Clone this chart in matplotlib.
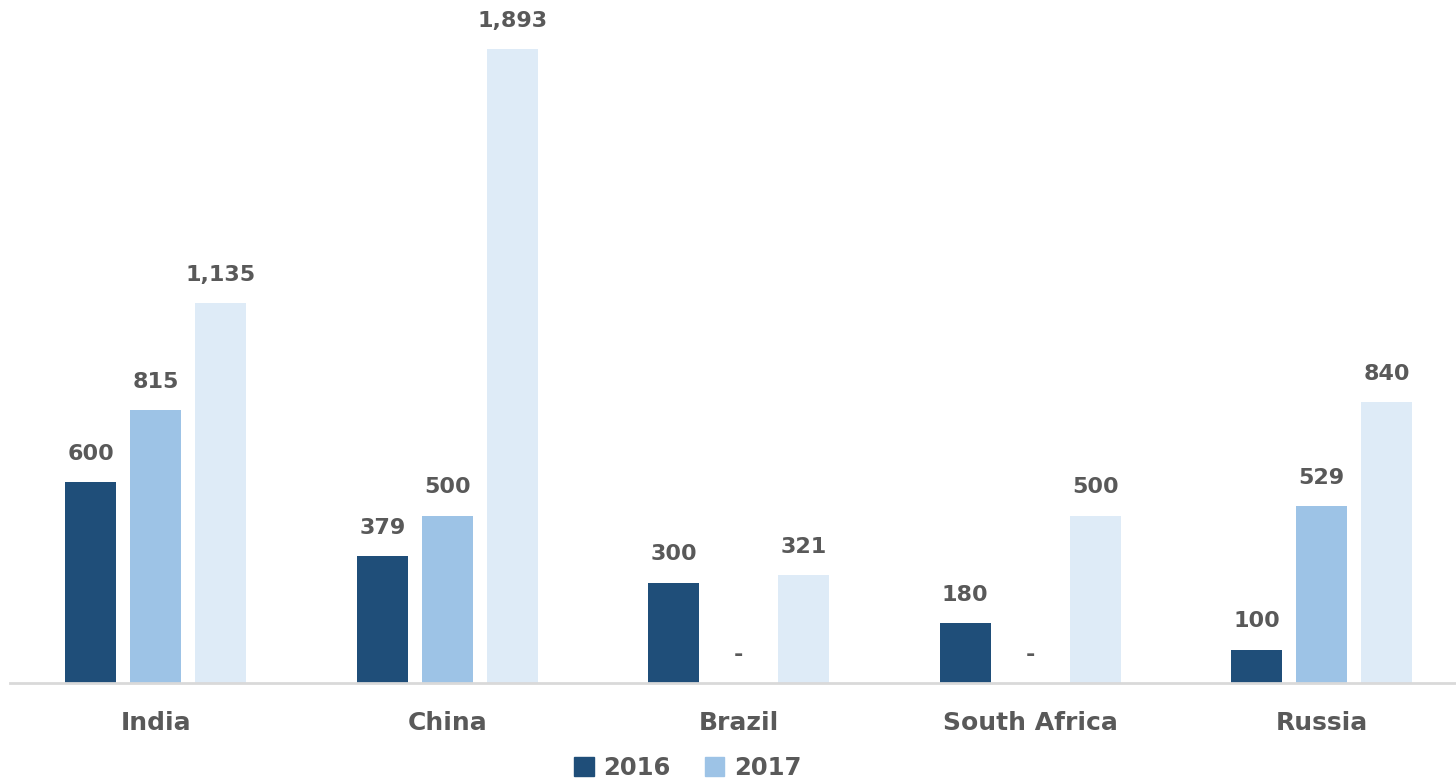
import matplotlib
matplotlib.use("Agg")
import matplotlib.pyplot as plt
from matplotlib.patches import Patch
import numpy as np

categories = ["India", "China", "Brazil", "South Africa", "Russia"]
series_names = ["2016", "2017", "2018"]
values_2016 = [600, 379, 300, 180, 100]
values_2017 = [815, 500, 0, 0, 529]
values_2018 = [1135, 1893, 321, 500, 840]

colors = ["#1F4E79", "#9DC3E6", "#DEEBF7"]
text_color = "#595959"

plt.rcParams["font.family"] = ["DejaVu Sans"]

W, H = 1456, 781
fig = plt.figure(figsize=(W / 100, H / 100), dpi=100)

base_px = 683
ax = fig.add_axes([10 / W, (H - base_px) / H, 1446 / W, base_px / H])

group_step = 291.5
bar_w = 51 / group_step
bar_step = 65 / group_step

x = np.arange(len(categories))
all_series = [values_2016, values_2017, values_2018]
for i, (vals, col) in enumerate(zip(all_series, colors)):
    pos = x + (i - 1) * bar_step
    ax.bar(pos, vals, width=bar_w, color=col, zorder=2)
    for px, v in zip(pos, vals):
        label = f"{v:,}" if v else "-"
        ax.annotate(label, (px, v), xytext=(0, 13), textcoords="offset points",
                    ha="center", va="bottom", fontsize=16, fontweight="bold",
                    color=text_color)

ax.set_xlim(-0.5, -0.5 + 1446 / group_step)
ax.set_ylim(0, 1893 * base_px / (base_px - 49))

for s in ["top", "right", "left"]:
    ax.spines[s].set_visible(False)
ax.spines["bottom"].set_color("#D9D9D9")
ax.spines["bottom"].set_linewidth(2)
ax.set_yticks([])
ax.set_xticks(x)
ax.set_xticklabels(categories, fontsize=18, fontweight="bold", color=text_color)
ax.tick_params(axis="x", length=0, pad=20)

handles = [Patch(color=colors[0], label=series_names[0]),
           Patch(color=colors[1], label=series_names[1])]
fig.legend(handles=handles, loc="center", bbox_to_anchor=(688 / W, 1 - 768 / H),
           ncol=2, frameon=False, handlelength=0.8, handleheight=0.8,
           columnspacing=1.4, handletextpad=0.4,
           prop={"size": 17.5, "weight": "bold"}, labelcolor=text_color)

fig.savefig("out.png", dpi=100)
